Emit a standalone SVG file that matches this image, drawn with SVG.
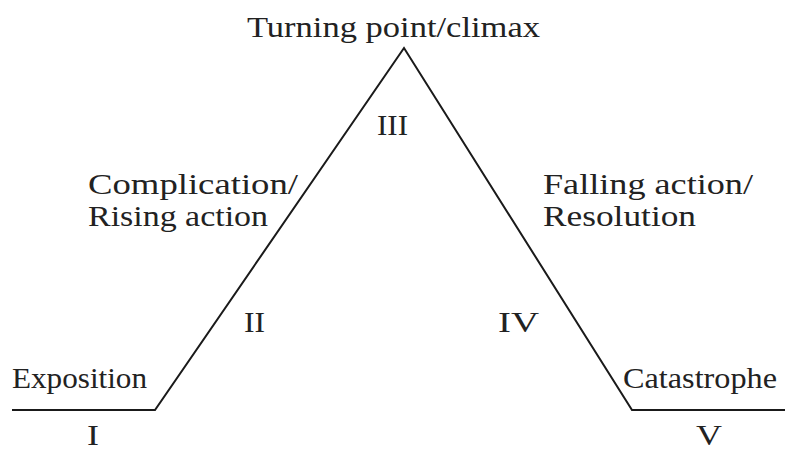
<svg xmlns="http://www.w3.org/2000/svg" width="785" height="452" viewBox="0 0 785 452">
<style>
text{font-family:"Liberation Serif","Times New Roman",serif;font-size:29px;fill:#222}
.ln{fill:none;stroke:#1a1a1a;stroke-width:2;stroke-linejoin:miter}
</style>
<rect width="785" height="452" fill="#fff"/>
<g id="connectors">
<polyline class="ln" points="12,410 155,410 404,48 632,410 785,410"/>
</g>
<g id="climax"><text x="247" y="37" textLength="293" lengthAdjust="spacingAndGlyphs">Turning point/climax</text></g>
<g id="n3"><text x="377" y="135" textLength="31" lengthAdjust="spacingAndGlyphs">III</text></g>
<g id="rising"><text x="88" y="194" textLength="210" lengthAdjust="spacingAndGlyphs">Complication/</text><text x="88" y="226" textLength="180" lengthAdjust="spacingAndGlyphs">Rising action</text></g>
<g id="falling"><text x="543" y="194" textLength="210" lengthAdjust="spacingAndGlyphs">Falling action/</text><text x="543" y="226" textLength="153" lengthAdjust="spacingAndGlyphs">Resolution</text></g>
<g id="n2"><text x="244" y="332" textLength="21" lengthAdjust="spacingAndGlyphs">II</text></g>
<g id="n4"><text x="498" y="332" textLength="41" lengthAdjust="spacingAndGlyphs">IV</text></g>
<g id="exposition"><text x="12" y="388" textLength="135" lengthAdjust="spacingAndGlyphs">Exposition</text></g>
<g id="n1"><text x="87" y="445" font-size="27" textLength="12" lengthAdjust="spacingAndGlyphs">I</text></g>
<g id="catastrophe"><text x="623" y="388" textLength="154" lengthAdjust="spacingAndGlyphs">Catastrophe</text></g>
<g id="n5"><text x="696" y="445" font-size="27" textLength="26" lengthAdjust="spacingAndGlyphs">V</text></g>
</svg>
